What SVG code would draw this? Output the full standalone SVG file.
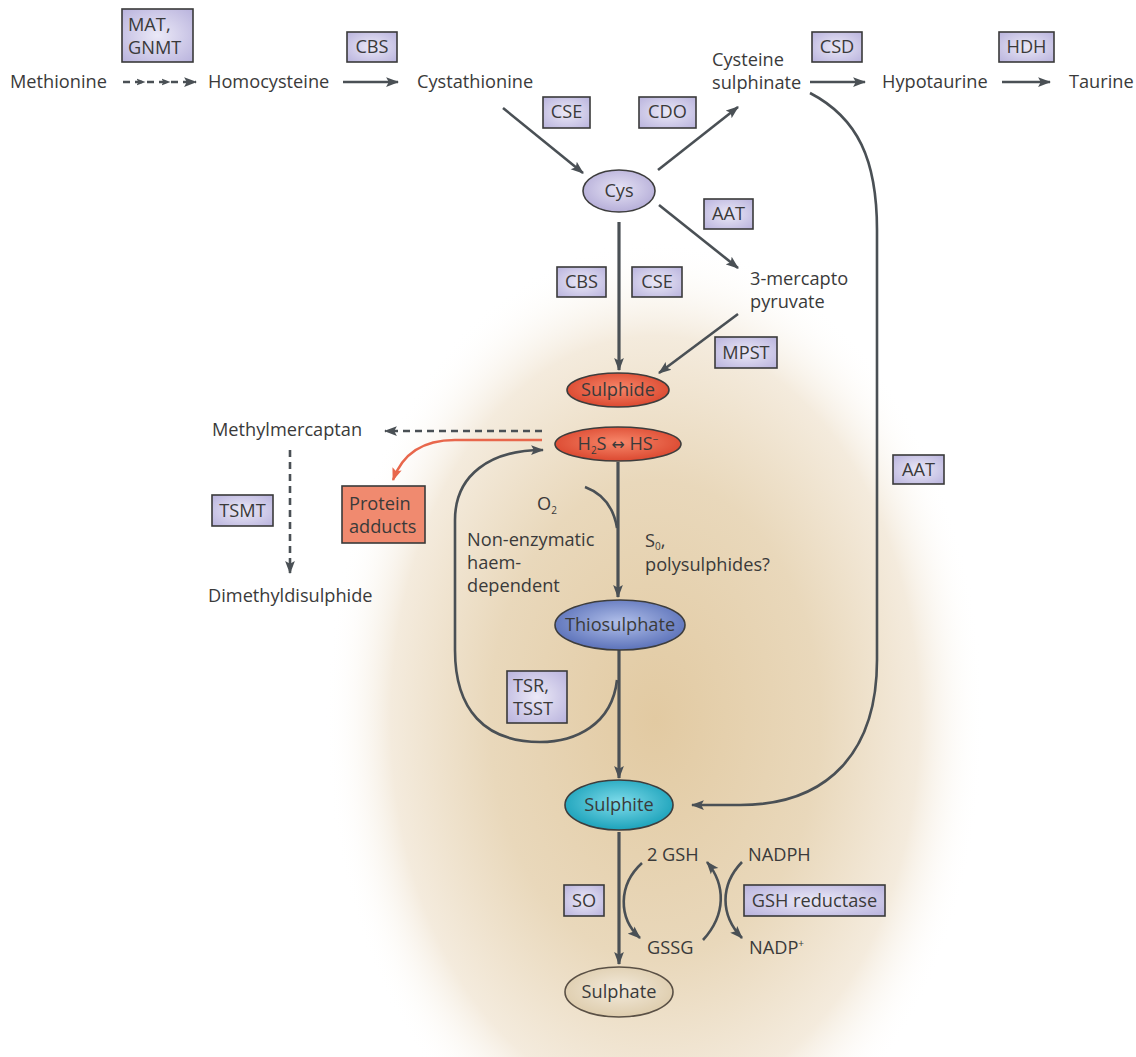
<svg xmlns="http://www.w3.org/2000/svg" width="1136" height="1057" viewBox="0 0 1136 1057">
<defs>
<style>
text{font-family:"Open Sans","Liberation Sans",sans-serif;font-size:18.2px;fill:#3a3a3a;}
.c{text-anchor:middle;}
.box{fill:url(#gBox);stroke:#3a3a3a;stroke-width:1.6;}
.ln{fill:none;stroke:#4a5055;stroke-width:2.6;}
.thick{stroke-width:3.2;}
.dash{stroke-dasharray:7,5;}
.node{stroke:#3d3d3d;stroke-width:1.6;}
</style>
<radialGradient id="gBg" cx="0.5" cy="0.5" r="0.5">
<stop offset="0" stop-color="#e2caa2"/>
<stop offset="0.5" stop-color="#e9d8bb"/>
<stop offset="0.8" stop-color="#f4ebdd"/>
<stop offset="1" stop-color="#ffffff" stop-opacity="0"/>
</radialGradient>
<radialGradient id="gBox" cx="0.5" cy="0.5" r="0.7">
<stop offset="0" stop-color="#ebe9f7"/>
<stop offset="1" stop-color="#b9b3dd"/>
</radialGradient>
<radialGradient id="gCys" cx="0.5" cy="0.45" r="0.6">
<stop offset="0" stop-color="#e6e3f5"/>
<stop offset="1" stop-color="#b2aad6"/>
</radialGradient>
<radialGradient id="gRed" cx="0.5" cy="0.45" r="0.6">
<stop offset="0" stop-color="#f7876a"/>
<stop offset="1" stop-color="#d9432b"/>
</radialGradient>
<radialGradient id="gBlue" cx="0.5" cy="0.45" r="0.6">
<stop offset="0" stop-color="#b2c0ea"/>
<stop offset="1" stop-color="#546bb5"/>
</radialGradient>
<radialGradient id="gCyan" cx="0.5" cy="0.45" r="0.6">
<stop offset="0" stop-color="#80dceb"/>
<stop offset="1" stop-color="#139db6"/>
</radialGradient>
<radialGradient id="gTan" cx="0.5" cy="0.45" r="0.6">
<stop offset="0" stop-color="#f3eadb"/>
<stop offset="1" stop-color="#dccaa9"/>
</radialGradient>
<marker id="ah" viewBox="0 0 12 10" refX="11" refY="5" markerWidth="13" markerHeight="11" markerUnits="userSpaceOnUse" orient="auto">
<path d="M0,0.5 L12,5 L0,9.5 L2.5,5 z" fill="#4a5055"/>
</marker>
<marker id="ahs" viewBox="0 0 12 10" refX="6" refY="5" markerWidth="9" markerHeight="8" markerUnits="userSpaceOnUse" orient="auto">
<path d="M0,0.5 L12,5 L0,9.5 L2.5,5 z" fill="#4a5055"/>
</marker>
<marker id="ahr" viewBox="0 0 12 10" refX="11" refY="5" markerWidth="13" markerHeight="11" markerUnits="userSpaceOnUse" orient="auto">
<path d="M0,0.5 L12,5 L0,9.5 L2.5,5 z" fill="#e8674c"/>
</marker>
</defs>

<rect x="0" y="0" width="1136" height="1057" fill="#ffffff"/>
<ellipse cx="655" cy="720" rx="330" ry="480" fill="url(#gBg)"/>

<g id="connectors">
<polyline class="ln dash" points="123,82 141,82 166,82 196,82" marker-mid="url(#ahs)" marker-end="url(#ah)" stroke-dasharray="6,4"/>
<path class="ln" d="M343,82 L398,82" marker-end="url(#ah)"/>
<path class="ln" d="M503,108 L583,173" marker-end="url(#ah)"/>
<path class="ln" d="M658,170 L738,107" marker-end="url(#ah)"/>
<path class="ln" d="M810,82 L865,82" marker-end="url(#ah)"/>
<path class="ln" d="M1002,82 L1050,82" marker-end="url(#ah)"/>
<path class="ln" d="M659,205 L738,268" marker-end="url(#ah)"/>
<path class="ln thick" d="M619,222 L619,370" marker-end="url(#ah)"/>
<path class="ln" d="M738,314 L659,373" marker-end="url(#ah)"/>
<path class="ln" d="M810,93 C858,118 877,160 877,230 L877,660 C877,750 830,805 740,805 L692,805" marker-end="url(#ah)"/>
<path class="ln dash" d="M542,431 L385,431" marker-end="url(#ah)"/>
<path fill="none" stroke="#e8674c" stroke-width="2.4" d="M542,440 L455,440 C422,440 402,455 393,480" marker-end="url(#ahr)"/>
<path class="ln dash" d="M290,450 L290,573" marker-end="url(#ah)"/>
<path class="ln" d="M585,487 Q612,497 617,528"/>
<path class="ln thick" d="M618,462 L618,597" marker-end="url(#ah)"/>
<path class="ln" d="M617,680 C612,725 575,742 540,742 C485,742 455,710 455,650 L455,520 C455,475 490,450 543,450" marker-end="url(#ah)"/>
<path class="ln thick" d="M619,650 L619,778" marker-end="url(#ah)"/>
<path class="ln thick" d="M619,832 L619,964" marker-end="url(#ah)"/>
<path class="ln" d="M642,863 C618,885 618,918 640,938" marker-end="url(#ah)"/>
<path class="ln" d="M703,940 C726,915 726,885 707,862" marker-end="url(#ah)"/>
<path class="ln" d="M742,862 C720,885 720,915 742,938" marker-end="url(#ah)"/>
</g>

<g id="methionine"><text x="10" y="88">Methionine</text></g>
<g id="homocysteine"><text x="208" y="88">Homocysteine</text></g>
<g id="cystathionine"><text x="417" y="88">Cystathionine</text></g>
<g id="cysteine-sulphinate"><text x="712" y="66">Cysteine</text><text x="712" y="89">sulphinate</text></g>
<g id="hypotaurine"><text x="882" y="88">Hypotaurine</text></g>
<g id="taurine"><text x="1069" y="88">Taurine</text></g>
<g id="mercaptopyruvate"><text x="750" y="285">3-mercapto</text><text x="750" y="308">pyruvate</text></g>
<g id="methylmercaptan"><text x="212" y="436">Methylmercaptan</text></g>
<g id="dimethyldisulphide"><text x="208" y="602">Dimethyldisulphide</text></g>
<g id="non-enzymatic"><text x="467" y="546">Non-enzymatic</text><text x="467" y="569">haem-</text><text x="467" y="592">dependent</text></g>
<g id="s0"><text x="645" y="547">S<tspan font-size="10" dy="3">0</tspan><tspan dy="-3">,</tspan></text><text x="645" y="571">polysulphides?</text></g>
<g id="o2"><text x="537" y="510">O<tspan font-size="10" dy="4">2</tspan></text></g>
<g id="gsh"><text x="647" y="861">2 GSH</text></g>
<g id="nadph"><text x="748" y="861">NADPH</text></g>
<g id="gssg"><text x="647" y="954">GSSG</text></g>
<g id="nadp"><text x="749" y="954">NADP<tspan font-size="10" dy="-7">+</tspan></text></g>

<g id="enz-mat"><rect class="box" x="122" y="9" width="71" height="53"/><text x="128" y="31">MAT,</text><text x="128" y="54">GNMT</text></g>
<g id="enz-cbs1"><rect class="box" x="347" y="32" width="50" height="30"/><text class="c" x="372" y="53">CBS</text></g>
<g id="enz-cse1"><rect class="box" x="543" y="97" width="47" height="31"/><text class="c" x="566.5" y="118">CSE</text></g>
<g id="enz-cdo"><rect class="box" x="639" y="97" width="57" height="31"/><text class="c" x="667.5" y="118">CDO</text></g>
<g id="enz-csd"><rect class="box" x="812" y="32" width="50" height="30"/><text class="c" x="837" y="53">CSD</text></g>
<g id="enz-hdh"><rect class="box" x="999" y="32" width="55" height="30"/><text class="c" x="1026.5" y="53">HDH</text></g>
<g id="enz-aat1"><rect class="box" x="704" y="199" width="49" height="30"/><text class="c" x="728.5" y="220">AAT</text></g>
<g id="enz-cbs2"><rect class="box" x="557" y="267" width="49" height="30"/><text class="c" x="581.5" y="288">CBS</text></g>
<g id="enz-cse2"><rect class="box" x="632" y="267" width="50" height="30"/><text class="c" x="657" y="288">CSE</text></g>
<g id="enz-mpst"><rect class="box" x="715" y="337" width="62" height="31"/><text class="c" x="746" y="359">MPST</text></g>
<g id="enz-aat2"><rect class="box" x="893" y="455" width="51" height="29"/><text class="c" x="918.5" y="476">AAT</text></g>
<g id="enz-tsmt"><rect class="box" x="212" y="495" width="61" height="31"/><text class="c" x="242.5" y="517">TSMT</text></g>
<g id="protein-adducts"><rect x="342" y="486" width="83" height="57" fill="#f08a6f" stroke="#3a3a3a" stroke-width="1.6"/><text x="349" y="510">Protein</text><text x="349" y="533">adducts</text></g>
<g id="enz-tsr"><rect class="box" x="507" y="671" width="60" height="52"/><text x="513" y="692">TSR,</text><text x="513" y="715">TSST</text></g>
<g id="enz-so"><rect class="box" x="564" y="885" width="40" height="31"/><text class="c" x="584" y="907">SO</text></g>
<g id="enz-gshr"><rect class="box" x="744" y="885" width="141" height="31"/><text class="c" x="814.5" y="907">GSH reductase</text></g>

<g id="cys"><ellipse class="node" cx="619" cy="191" rx="36" ry="21" fill="url(#gCys)"/><text class="c" x="619" y="197">Cys</text></g>
<g id="sulphide"><ellipse class="node" cx="618" cy="390" rx="51" ry="17" fill="url(#gRed)"/><text class="c" x="618" y="396">Sulphide</text></g>
<g id="h2s"><ellipse class="node" cx="618" cy="444" rx="63" ry="17" fill="url(#gRed)"/><text class="c" x="618" y="450">H<tspan font-size="10" dy="4">2</tspan><tspan dy="-4">S </tspan><tspan font-family="DejaVu Sans" font-size="16">↔</tspan><tspan> HS</tspan><tspan font-size="10" dy="-7">−</tspan></text></g>
<g id="thiosulphate"><ellipse class="node" cx="620" cy="625" rx="65" ry="25" fill="url(#gBlue)"/><text class="c" x="620" y="631">Thiosulphate</text></g>
<g id="sulphite"><ellipse class="node" cx="619" cy="805" rx="54" ry="25" fill="url(#gCyan)"/><text class="c" x="619" y="811">Sulphite</text></g>
<g id="sulphate"><ellipse cx="619" cy="992" rx="54" ry="25" fill="url(#gTan)" stroke="#5a5045" stroke-width="1.6"/><text class="c" x="619" y="998">Sulphate</text></g>
</svg>
